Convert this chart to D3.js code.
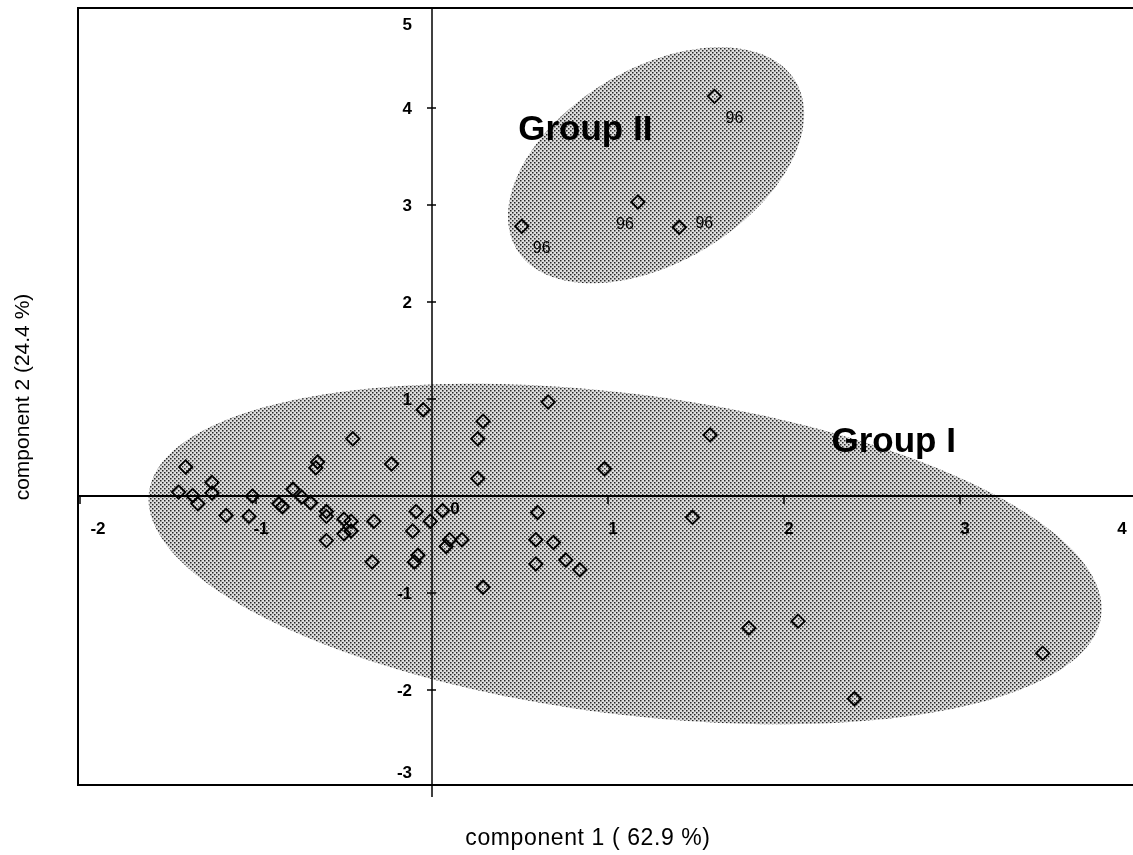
<!DOCTYPE html>
<html lang="en">
<head>
<meta charset="UTF-8" />
<title>Component scores</title>
<script src="https://d3js.org/d3.v7.min.js"></script>
<style>
  body { margin: 0; background: #fff; }
  svg { display: block; font-family: "Liberation Sans", Arial, Helvetica, sans-serif; }
  .ticklabel { font-size: 17px; font-weight: bold; fill: #000; }
  .title { font-size: 23px; fill: #000; }
  .grouplabel { font-size: 35px; font-weight: bold; fill: #000; }
  .tag { font-size: 16px; fill: #000; }
  .pt { fill: none; stroke: #000; stroke-width: 1.9px; }
  .zone { mix-blend-mode: multiply; }
</style>
</head>
<body>
<svg width="1133" height="855"></svg>
<script>
// scores (component 1, component 2)
const groupIx = [-0.05, 0.29, 0.26, 0.66, -0.45, -1.40, -0.65, -0.66, -0.23, -1.25,
                 -1.25, -1.44, -1.36, -1.33, -1.17, -1.02, -1.04, -0.85, -0.87, -0.79,
                 -0.74, -0.69, -0.60, -0.60, -0.50, -0.46, -0.50, -0.46, -0.60, -0.33,
                 -0.34, -0.09, -0.11, -0.01, 0.06, -0.08, -0.10, 0.10, 0.08, 0.17,
                 0.26, 0.98, 1.58, 0.60, 0.59, 0.69, 0.76, 0.84, 0.59, 0.29,
                 1.48, 1.80, 2.08, 2.40, 3.47];
const groupIy = [0.89, 0.77, 0.59, 0.97, 0.59, 0.30, 0.35, 0.29, 0.33, 0.14,
                 0.03, 0.04, 0.005, -0.08, -0.20, 0.00, -0.21, -0.11, -0.08, 0.07,
                 -0.01, -0.07, -0.16, -0.21, -0.24, -0.26, -0.39, -0.36, -0.46, -0.26,
                 -0.68, -0.16, -0.36, -0.26, -0.15, -0.61, -0.68, -0.45, -0.52, -0.45,
                 0.18, 0.28, 0.63, -0.17, -0.45, -0.48, -0.66, -0.76, -0.70, -0.94,
                 -0.22, -1.36, -1.29, -2.09, -1.62];
const groupIIx = [1.605, 1.17, 1.405, 0.51];
const groupIIy = [4.12, 3.03, 2.77, 2.78];
const groupIITags = ["96", "96", "96", "96"];
const groupIITagSide = ["se", "sw", "e", "se"];

const xTicks = [-2, -1, 0, 1, 2, 3, 4];
const yTicks = [5, 4, 3, 2, 1, -1, -2, -3];

// group outlines: centre and two semi-axis vectors, in score units
const groupNames = ["Group I", "Group II"];
const groupCentres = [[1.097, -0.598], [1.273, 3.41]];
const groupAxisU = [[2.705, -0.637], [0.80, 0.84]];
const groupAxisV = [[-0.117, -1.636], [0.26, -0.88]];
const groupLabelAt = [[2.27, 0.45], [0.49, 3.67]];

const xTitle = "component 1 ( 62.9 %)";
const yTitle = "component 2 (24.4 %)";

const svg = d3.select("svg");
const x = d3.scaleLinear().domain([-2, 4]).range([80, 1136]);
const y = d3.scaleLinear().domain([-3, 5]).range([787, 11]);

// stipple fill (multiplied, so tick labels underneath stay black)
const defs = svg.append("defs");
const pat = defs.append("pattern").attr("id", "stipple")
  .attr("patternUnits", "userSpaceOnUse").attr("width", 4).attr("height", 4);
pat.append("rect").attr("width", 4).attr("height", 4).attr("fill", "#dedede");
pat.append("rect").attr("x", 0).attr("y", 0).attr("width", 1.5).attr("height", 1.5).attr("fill", "#262626");
pat.append("rect").attr("x", 2).attr("y", 2).attr("width", 1.5).attr("height", 1.5).attr("fill", "#262626");

const fLeft = x(-2) - 2, fRight = 1133, fTop = y(5.03), fBottom = y(-2.98);

// tick labels
xTicks.forEach(v => {
  const isZero = v === 0;
  const px = isZero ? x(0) + 23 : Math.max(98, Math.min(1122, x(v) + 5));
  const py = isZero ? y(0) + 12 : y(0) + 32;
  svg.append("text").attr("class", "ticklabel")
    .attr("x", px).attr("y", py).attr("dy", "0.36em")
    .attr("text-anchor", "middle").text(v);
});
yTicks.forEach(v => {
  svg.append("text").attr("class", "ticklabel")
    .attr("x", x(0) - 20).attr("y", Math.max(24, Math.min(772, y(v)))).attr("dy", "0.36em")
    .attr("text-anchor", "end").text(v);
});

// ellipses
const line = d3.line().x(d => x(d[0])).y(d => y(d[1])).curve(d3.curveLinearClosed);
groupNames.forEach((g, i) => {
  const c = groupCentres[i], u = groupAxisU[i], w = groupAxisV[i];
  const ring = d3.range(0, 2 * Math.PI, Math.PI / 90).map(t => [
    c[0] + u[0] * Math.cos(t) + w[0] * Math.sin(t),
    c[1] + u[1] * Math.cos(t) + w[1] * Math.sin(t)
  ]);
  svg.append("path").attr("class", "zone").attr("d", line(ring)).attr("fill", "url(#stipple)");
});

// frame and axes
svg.append("path")
  .attr("d", `M${fRight},${fTop}H${fLeft}V${fBottom}H${fRight}`)
  .attr("fill", "none").attr("stroke", "#000").attr("stroke-width", 2);
svg.append("line").attr("x1", fLeft).attr("x2", fRight).attr("y1", y(0)).attr("y2", y(0))
  .attr("stroke", "#000").attr("stroke-width", 2);
svg.append("line").attr("x1", x(0)).attr("x2", x(0)).attr("y1", fTop).attr("y2", fBottom + 12)
  .attr("stroke", "#000").attr("stroke-width", 1.5);

xTicks.filter(v => v !== 0).forEach(v => {
  svg.append("line").attr("x1", x(v)).attr("x2", x(v)).attr("y1", y(0)).attr("y2", y(0) + 8)
    .attr("stroke", "#000").attr("stroke-width", 1.5);
});
yTicks.filter(v => v > -3 && v < 5).forEach(v => {
  svg.append("line").attr("x1", x(0) - 5).attr("x2", x(0) + 4).attr("y1", y(v)).attr("y2", y(v))
    .attr("stroke", "#000").attr("stroke-width", 1.5);
});

// points
const diamond = d3.symbol(d3.symbolSquare, 88);
const pts = groupIx.map((v, i) => [v, groupIy[i]])
  .concat(groupIIx.map((v, i) => [v, groupIIy[i]]));
svg.append("g").selectAll("path").data(pts).enter().append("path")
  .attr("class", "pt").attr("d", diamond)
  .attr("transform", d => `translate(${x(d[0])},${y(d[1])}) rotate(45)`);

// "96" tags
const tagOffset = { se: [20, 21], sw: [-13, 21], e: [25, -5] };
groupIIx.forEach((v, i) => {
  const o = tagOffset[groupIITagSide[i]];
  svg.append("text").attr("class", "tag")
    .attr("x", x(v) + o[0]).attr("y", y(groupIIy[i]) + o[1]).attr("dy", "0.36em")
    .attr("text-anchor", "middle").text(groupIITags[i]);
});

// group names
groupNames.forEach((g, i) => {
  svg.append("text").attr("class", "grouplabel")
    .attr("x", x(groupLabelAt[i][0])).attr("y", y(groupLabelAt[i][1])).text(g);
});

// axis titles
svg.append("text").attr("class", "title").attr("x", 588).attr("y", 845)
  .attr("text-anchor", "middle").style("letter-spacing", "0.6px").text(xTitle);
svg.append("text").attr("class", "title")
  .attr("transform", "translate(22,397) rotate(-90)")
  .attr("text-anchor", "middle").attr("dy", "0.35em").style("font-size", "21px").text(yTitle);
</script>
</body>
</html>
